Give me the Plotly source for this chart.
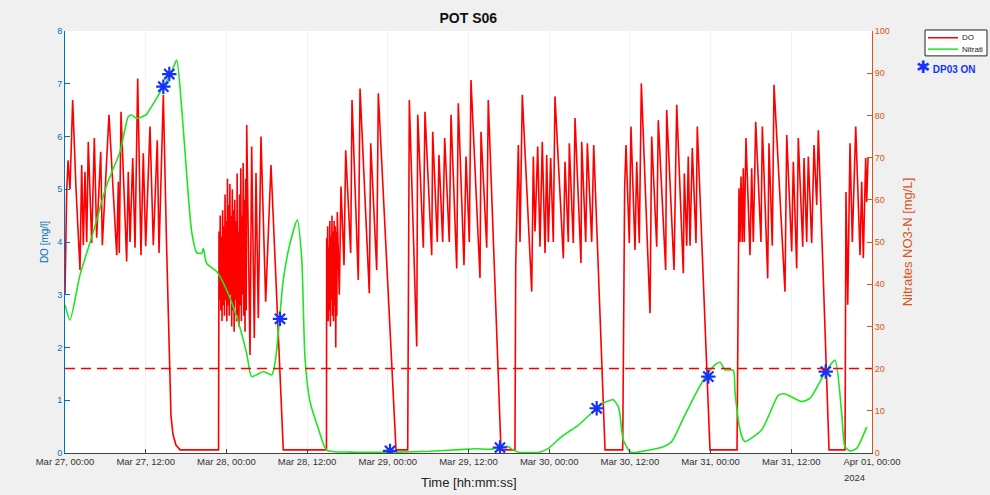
import pandas as pd
import plotly.graph_objects as go

# ---------------- data ----------------
start = pd.Timestamp("2024-03-27 00:00")
end = pd.Timestamp("2024-04-01 00:00")

do_hours = [
    0.00, 0.25, 0.45, 0.74, 1.14, 1.64, 2.23, 2.48, 2.72, 2.97, 3.23, 3.46, 3.97, 4.36, 4.71,
    5.31, 5.55, 6.54, 7.69, 7.93, 8.07, 8.33, 9.17, 9.41, 9.67, 10.07, 10.41, 10.81, 11.30,
    11.64, 12.00, 12.64, 13.13, 13.72, 13.98, 14.62, 15.09, 15.54, 15.76, 16.06, 16.50, 17.10,
    22.83, 22.90, 22.99, 23.08, 23.17, 23.26, 23.35, 23.44, 23.53, 23.62, 23.71, 23.80, 23.89,
    23.98, 24.07, 24.16, 24.25, 24.34, 24.43, 24.52, 24.61, 24.70, 24.79, 24.88, 24.97, 25.06,
    25.15, 25.24, 25.33, 25.42, 25.51, 25.60, 25.69, 25.78, 25.87, 25.96, 26.05, 26.14, 26.23,
    26.32, 26.41, 26.50, 26.59, 26.68, 26.77, 26.86, 26.95,
    27.02, 27.51, 27.76, 28.15, 28.40, 28.74, 29.14, 29.84, 30.63, 32.46,
    38.88, 38.91, 38.98, 39.06, 39.14, 39.22, 39.30, 39.38, 39.46, 39.54, 39.62, 39.70, 39.78,
    39.86, 39.94, 40.02, 40.10, 40.18, 40.26, 40.34, 40.42,
    40.49, 40.79, 41.04, 41.49, 41.74, 42.48, 42.68, 43.61, 43.87, 45.25, 45.46, 46.35, 46.59,
    49.22, 50.96,
    51.20, 52.30, 52.45, 53.28, 53.53, 54.53, 54.68, 55.36, 55.61, 56.16, 56.46, 57.14, 57.40,
    58.25, 58.48, 59.33, 59.63, 60.12, 60.37, 61.71, 61.86, 62.71, 62.94, 64.83, 66.91,
    67.02, 67.26, 67.41, 67.66, 68.00, 69.40, 69.64, 69.89, 70.29, 70.63, 70.97, 71.38, 71.63,
    71.87, 72.22, 72.61, 72.86, 74.10, 74.35, 74.84, 74.99, 75.58, 75.84, 76.73, 76.83, 77.43,
    77.67, 78.32, 78.62, 80.30, 82.93,
    83.12, 83.22, 83.42, 83.91, 84.16, 84.76, 85.01, 85.40, 85.70, 86.99, 87.24, 87.99, 88.22,
    89.32, 89.47, 90.56, 90.96, 91.94, 92.09, 92.45, 92.68, 92.94, 93.28, 93.83, 94.02, 95.91,
    99.93,
    100.12, 100.22, 100.37, 100.52, 100.71, 100.86, 101.01, 101.26, 101.86, 102.11, 102.35,
    102.71, 103.49, 103.69, 104.49, 104.68, 105.17, 105.43, 107.06, 107.32, 108.06, 108.30,
    108.80, 109.04, 109.70, 109.89, 110.29, 110.53, 111.03, 111.38, 111.78, 112.02, 113.61,
    115.99,
    116.13, 116.39, 116.73, 117.07, 117.58, 118.22, 118.47, 118.71, 119.06, 119.21, 119.41,
]
do_values = [
    3.00, 4.95, 5.55, 5.00, 6.69, 5.00, 3.47, 5.46, 3.94, 5.33, 4.00, 5.90, 3.98, 5.97, 4.08,
    5.71, 3.94, 6.41, 3.75, 5.14, 3.79, 6.47, 3.63, 5.33, 4.00, 5.59, 3.89, 7.10, 3.75,
    5.68, 3.92, 6.19, 3.94, 5.93, 3.79, 6.79, 4.00, 1.50, 0.70, 0.35, 0.15, 0.06,
    0.06, 4.20, 2.90, 4.50, 2.70, 4.10, 2.50, 4.60, 2.80, 4.30, 2.60, 4.90, 2.90,
    4.40, 2.50, 5.20, 2.80, 4.70, 2.60, 5.10, 3.00, 4.50, 2.40, 5.00, 2.70, 4.60,
    2.30, 4.80, 2.90, 4.40, 2.50, 5.30, 2.60, 4.20, 2.40, 4.90, 2.80, 5.40, 2.50,
    4.50, 3.00, 5.50, 2.60, 4.80, 2.30, 5.20, 2.70,
    6.22, 1.86, 5.81, 2.18, 5.31, 2.56, 6.00, 2.87, 5.46, 0.06,
    0.06, 4.07, 2.80, 4.30, 2.50, 3.90, 2.70, 4.40, 2.40, 4.10, 2.90, 4.50, 2.60,
    4.20, 2.50, 4.40, 2.80, 4.30, 2.00, 4.20, 2.60,
    4.57, 3.00, 5.05, 3.56, 5.74, 3.79, 6.69, 3.28, 6.91, 3.03, 5.87, 3.47, 6.82,
    0.06, 0.06,
    6.69, 2.02, 6.41, 3.89, 6.47, 3.75, 6.09, 4.00, 5.65, 4.00, 5.97, 4.00, 6.41,
    3.50, 6.63, 3.56, 5.62, 4.00, 7.07, 3.32, 6.09, 3.89, 6.69, 0.06, 0.06,
    3.56, 4.95, 5.84, 4.00, 6.79, 3.06, 5.62, 4.20, 5.81, 3.91, 5.90, 3.79, 5.65,
    4.00, 5.59, 4.00, 6.76, 3.69, 5.52, 4.00, 5.87, 3.98, 6.35, 3.60, 5.90, 4.00,
    5.87, 4.00, 5.84, 0.06, 0.06,
    3.31, 5.02, 5.84, 3.98, 6.19, 3.85, 5.52, 3.98, 7.01, 2.65, 6.00, 3.91, 6.31,
    3.47, 6.50, 3.47, 6.60, 3.41, 5.30, 3.93, 5.62, 3.93, 5.78, 3.98, 6.19, 0.06,
    0.06,
    3.50, 5.02, 4.00, 5.24, 4.00, 5.40, 4.00, 5.97, 3.75, 5.40, 4.00,
    6.28, 4.00, 6.19, 3.31, 5.87, 3.93, 6.98, 3.06, 6.03, 3.82, 5.52,
    3.50, 5.97, 3.91, 5.59, 4.00, 5.62, 3.98, 5.84, 4.70, 6.12, 0.06,
    0.06,
    4.95, 2.81, 5.87, 4.00, 6.19, 3.75, 5.14, 3.69, 5.59, 4.76, 5.60,
]

no3_hours = [
    0.00, 0.74, 2.23, 4.21, 6.20, 8.18, 9.41, 9.92, 10.66, 12.04, 12.39, 13.64, 14.62, 15.87,
    16.61, 17.35, 18.10, 18.84, 19.58, 20.33, 20.56, 21.07, 22.56, 24.04, 25.53, 27.02, 27.76,
    29.49, 30.74, 31.23, 31.72, 32.46, 33.46, 34.54, 35.20, 35.69, 36.43, 37.67, 38.91,
    42.38, 49.81, 54.30, 58.70, 61.00, 63.20, 64.68, 65.70, 66.60, 67.40, 70.60, 71.87, 73.86,
    76.33, 79.06, 80.30, 81.53, 82.27, 82.50, 83.02, 84.01, 84.51, 88.97, 90.22, 91.94, 93.93,
    95.42, 96.65, 97.40, 98.14, 99.38, 99.63, 100.37, 100.87, 101.12, 103.61, 106.09, 107.08,
    109.55, 110.79, 113.12, 114.50, 115.49, 115.98, 116.73, 117.72, 119.21,
]
no3_values = [
    35.1, 31.5, 42.2, 52.4, 63.5, 71.4, 79.7, 80.1, 79.3, 80.1, 80.9, 84.1, 86.8, 90.4,
    93.1, 81.8, 65.9, 52.4, 47.5, 47.3, 48.5, 44.9, 43.0, 38.6, 32.3, 23.6, 18.1,
    19.3, 18.5, 21.3, 28.4, 41.0, 49.7, 55.2, 46.1, 22.4, 12.2, 5.8, 0.7,
    0.2, 0.2, 0.4, 0.8, 1.0, 0.9, 1.3, 1.6, 0.8, 0.2, 0.2, 1.1, 3.9,
    6.6, 10.6, 12.0, 12.6, 11.0, 9.4, 3.1, 0.3, 0.1, 1.5, 2.7, 8.2, 14.5,
    18.5, 20.9, 21.5, 19.7, 19.6, 14.5, 5.5, 3.1, 2.7, 5.5, 13.7, 14.0,
    12.2, 13.0, 19.3, 22.0, 9.4, 1.5, 0.5, 1.1, 6.2,
]

dp03_hours = [14.62, 15.51, 31.97, 48.33, 64.68, 79.06, 95.66, 113.12]
dp03_values = [86.8, 89.8, 31.8, 0.5, 1.3, 10.6, 18.1, 19.3]

threshold_no3 = 20

tick_hours = [0, 12, 24, 36, 48, 60, 72, 84, 96, 108, 120]
tick_labels = [
    "Mar 27, 00:00", "Mar 27, 12:00", "Mar 28, 00:00", "Mar 28, 12:00",
    "Mar 29, 00:00", "Mar 29, 12:00", "Mar 30, 00:00", "Mar 30, 12:00",
    "Mar 31, 00:00", "Mar 31, 12:00", "Apr 01, 00:00",
]
legend_names = ["DO", "Nitrati"]

# ---------------- figure ----------------
def to_time(hours):
    return start + pd.to_timedelta(hours, unit="h")

FONT = "Liberation Sans, Arial, sans-serif"
BLUE_AX = "#0072BD"
ORANGE_AX = "#D95319"
RED = "#ff0000"
GREEN = "#1ee61e"
STAR = "#1432ff"

fig = go.Figure()
fig.add_trace(go.Scatter(
    x=to_time(do_hours), y=do_values, mode="lines", name=legend_names[0],
    line=dict(color=RED, width=1.6), yaxis="y",
))
fig.add_trace(go.Scatter(
    x=to_time(no3_hours), y=no3_values, mode="lines", name=legend_names[1],
    line=dict(color=GREEN, width=1.6, shape="spline", smoothing=0.6), yaxis="y2",
))
fig.add_trace(go.Scatter(
    x=to_time(dp03_hours), y=dp03_values, mode="markers", name="DP03 ON",
    marker=dict(symbol="asterisk-open", size=12, color=STAR,
                line=dict(color=STAR, width=2.2)),
    yaxis="y2",
))

fig.add_shape(type="line", xref="paper", x0=0, x1=1, yref="y2",
              y0=threshold_no3, y1=threshold_no3,
              line=dict(color=RED, width=1.5, dash="10px,6px"))

fig.update_layout(
    width=990, height=495,
    margin=dict(l=65, r=118, t=31, b=42),
    paper_bgcolor="#f0f0f0", plot_bgcolor="#ffffff",
    font=dict(family=FONT, size=10, color="#333333"),
    title=dict(text="<b>POT S06</b>", x=0.473, xanchor="center",
               y=0.963, yanchor="middle", yref="container",
               font=dict(size=14, color="#111111")),
    showlegend=False,
    xaxis=dict(
        type="date", range=[start, end], automargin=False,
        tickvals=to_time(tick_hours), ticktext=tick_labels,
        ticks="inside", ticklen=4, tickcolor="#444444",
        showline=True, linecolor="#444444", linewidth=1,
        showgrid=True, gridcolor="rgba(0,0,0,0.05)",
        zeroline=False, tickangle=0,
        tickfont=dict(size=9.5, color="#333333"),
    ),
    yaxis=dict(
        range=[0, 8], tickvals=[0, 1, 2, 3, 4, 5, 6, 7, 8], automargin=False,
        ticks="inside", ticklen=5, tickcolor=BLUE_AX,
        showline=True, linecolor=BLUE_AX, linewidth=1,
        showgrid=False, zeroline=False,
        tickfont=dict(size=9, color=BLUE_AX),
        title=dict(text="DO [mg/l]", font=dict(size=10, color=BLUE_AX), standoff=6),
    ),
    yaxis2=dict(
        range=[0, 100], tickvals=[0, 10, 20, 30, 40, 50, 60, 70, 80, 90, 100],
        overlaying="y", side="right", automargin=False,
        ticks="inside", ticklen=5, tickcolor=ORANGE_AX,
        showline=True, linecolor=ORANGE_AX, linewidth=1,
        showgrid=False, zeroline=False,
        tickfont=dict(size=9, color=ORANGE_AX),
        title=dict(text="Nitrates NO3-N [mg/L]", font=dict(size=13, color=ORANGE_AX),
                   standoff=14),
    ),
)

# x-axis title and year label
fig.add_annotation(text="Time [hh:mm:ss]", xref="paper", yref="paper",
                   x=0.5, y=-0.069, xanchor="center", yanchor="middle",
                   showarrow=False, font=dict(size=13, color="#222222"))
fig.add_annotation(text="2024", xref="paper", yref="paper",
                   x=0.963, y=-0.059, xanchor="left", yanchor="middle",
                   showarrow=False, font=dict(size=9.5, color="#333333"))

# hand-built legend box (MATLAB style)
fig.add_shape(type="rect", xref="paper", yref="paper",
              x0=1.0657, x1=1.1425, y0=0.941, y1=1.0024,
              line=dict(color="#222222", width=1), fillcolor="#ffffff", layer="above")
legend_rows = [(0.984, RED), (0.957, GREEN)]
for (ly, col), name in zip(legend_rows, legend_names):
    fig.add_shape(type="line", xref="paper", yref="paper",
                  x0=1.0694, x1=1.1066, y0=ly, y1=ly,
                  line=dict(color=col, width=1.5), layer="above")
    fig.add_annotation(text=name, xref="paper", yref="paper",
                       x=1.1085, y=ly, xanchor="left", yanchor="middle",
                       showarrow=False, font=dict(size=8, color="#222222"))

fig.add_annotation(text="<span style='font-size:17px'>✱</span> <b>DP03 ON</b>",
                   xref="paper", yref="paper",
                   x=1.131, y=0.913, xanchor="right", yanchor="middle",
                   showarrow=False, font=dict(size=10, color=STAR))

fig.write_html("out.html")
